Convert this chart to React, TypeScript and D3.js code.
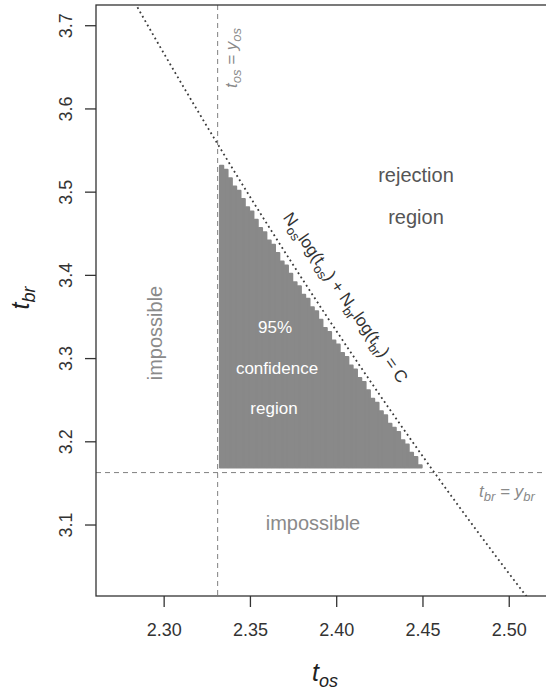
import React from 'react';
import * as d3 from 'd3';

// axis ticks
const xTicks = [2.3, 2.35, 2.4, 2.45, 2.5];
const yTicks = [3.1, 3.2, 3.3, 3.4, 3.5, 3.6, 3.7];
const xDomain = [2.2605, 2.5271];
const yDomain = [3.0147, 3.7249];

// boundary: Nos*log(tos) + Nbr*log(tbr) = C  (written as log(tbr) + a*log(tos) = k)
const ratioOsBr = 2.241;
const lineConst = 3.1657;
const regionConst = 3.1613;

// observed values (dashed lines)
const yOs = 2.331;
const yBr = 3.163;

// grid used for the shaded confidence region
const osStart = 2.333;
const osStep = 0.0025;
const brStart = 3.1705;
const brStep = 0.005;

const W = 546;
const H = 692;
const m = { left: 96, top: 5, right: 556, bottom: 596 };
const font = '"Liberation Sans", Arial, Helvetica, sans-serif';

export default function App() {
  const x = d3.scaleLinear().domain(xDomain).range([m.left, m.right]);
  const y = d3.scaleLinear().domain(yDomain).range([m.bottom, m.top]);

  const curveAt = (tos: number, k: number) => Math.exp(k - ratioOsBr * Math.log(tos));

  const linePts = d3.range(xDomain[0], xDomain[1] + 0.001, 0.002).map(t => [t, curveAt(t, lineConst)]);
  const linePath = d3.line<number[]>().x(d => x(d[0])).y(d => y(d[1]))(linePts) || '';

  // columns of grid cells inside the region
  const cols: { x0: number; x1: number; top: number }[] = [];
  for (let i = 0; ; i++) {
    const tos = osStart + i * osStep;
    const maxBr = curveAt(tos, regionConst);
    const n = Math.floor((maxBr - brStart) / brStep);
    if (n < 0) break;
    cols.push({ x0: tos - osStep / 2, x1: tos + osStep / 2, top: brStart + n * brStep + brStep / 2 });
  }
  const bottomBr = brStart - brStep / 2;
  const grey = '#898989';

  return (
    <svg width={W} height={H} style={{ position: 'absolute', left: 0, top: 0, background: '#fff' }} fontFamily={font}>
      <defs>
        <clipPath id="plot">
          <rect x={m.left} y={m.top} width={m.right - m.left} height={m.bottom - m.top} />
        </clipPath>
      </defs>
      <g clipPath="url(#plot)">
        {cols.map((c, i) => (
          <rect key={i} x={x(c.x0) + 1} width={x(c.x1) - x(c.x0) - 1} y={y(c.top) + 1}
            height={y(bottomBr) - y(c.top) - 2} fill={grey} stroke={grey} strokeWidth={2} strokeLinejoin="round" />
        ))}
        <line x1={x(yOs)} x2={x(yOs)} y1={m.top} y2={m.bottom} stroke="#808080" strokeWidth={1} strokeDasharray="5,4" />
        <line x1={m.left} x2={m.right} y1={y(yBr)} y2={y(yBr)} stroke="#808080" strokeWidth={1} strokeDasharray="5,4" />
        <path d={linePath} fill="none" stroke="#3a3a3a" strokeWidth={1.8} strokeDasharray="1.8,3.2" />
      </g>

      {/* box */}
      <rect x={m.left} y={m.top} width={m.right - m.left} height={m.bottom - m.top} fill="none" stroke="#333" strokeWidth={1.3} />

      {/* y axis */}
      {yTicks.map(t => (
        <g key={t}>
          <line x1={m.left - 11} x2={m.left} y1={y(t)} y2={y(t)} stroke="#333" strokeWidth={1.3} />
          <text transform={`translate(${m.left - 24},${y(t)}) rotate(-90)`} textAnchor="middle" fontSize={18} fill="#333">{t.toFixed(1)}</text>
        </g>
      ))}
      {/* x axis */}
      {xTicks.map(t => (
        <g key={t}>
          <line x1={x(t)} x2={x(t)} y1={m.bottom} y2={m.bottom + 11} stroke="#333" strokeWidth={1.3} />
          <text x={x(t)} y={m.bottom + 40} textAnchor="middle" fontSize={18} fill="#333">{t.toFixed(2)}</text>
        </g>
      ))}

      <text x={325} y={681} textAnchor="middle" fontSize={25} fontStyle="italic" fill="#222">
        t<tspan dy={6} fontSize={18}>os</tspan>
      </text>
      <text transform={`translate(29,298) rotate(-90)`} textAnchor="middle" fontSize={25} fontStyle="italic" fill="#222">
        t<tspan dy={6} fontSize={18}>br</tspan>
      </text>

      {/* annotations */}
      <text transform={`translate(237,58) rotate(-90)`} textAnchor="middle" fontSize={17} fontStyle="italic" fill="#8a8a8a">
        t<tspan dy={4} fontSize={13}>os</tspan><tspan dy={-4}> = y</tspan><tspan dy={4} fontSize={13}>os</tspan>
      </text>
      <text x={479} y={497} fontSize={17} fontStyle="italic" fill="#8a8a8a">
        t<tspan dy={4} fontSize={13}>br</tspan><tspan dy={-4}> = y</tspan><tspan dy={4} fontSize={13}>br</tspan>
      </text>

      <text x={416} y={182} textAnchor="middle" fontSize={20} fill="#555">rejection</text>
      <text x={416} y={224} textAnchor="middle" fontSize={20} fill="#555">region</text>

      <text transform={`translate(162,333) rotate(-90)`} textAnchor="middle" fontSize={20} fill="#8a8a8a">impossible</text>
      <text x={313} y={530} textAnchor="middle" fontSize={20} fill="#8a8a8a">impossible</text>

      <text x={275} y={333} textAnchor="middle" fontSize={17} fill="#fff">95%</text>
      <text x={277} y={374} textAnchor="middle" fontSize={17} fill="#fff">confidence</text>
      <text x={274} y={414} textAnchor="middle" fontSize={17} fill="#fff">region</text>

      <text transform={`translate(341,301) rotate(55)`} textAnchor="middle" fontSize={17} fill="#333">
        N<tspan dy={5} fontSize={13}>os</tspan><tspan dy={-5}>log(t</tspan><tspan dy={5} fontSize={13}>os</tspan>
        <tspan dy={-5}>) + N</tspan><tspan dy={5} fontSize={13}>br</tspan><tspan dy={-5}>log(t</tspan>
        <tspan dy={5} fontSize={13}>br</tspan><tspan dy={-5}>) = C</tspan>
      </text>
    </svg>
  );
}
